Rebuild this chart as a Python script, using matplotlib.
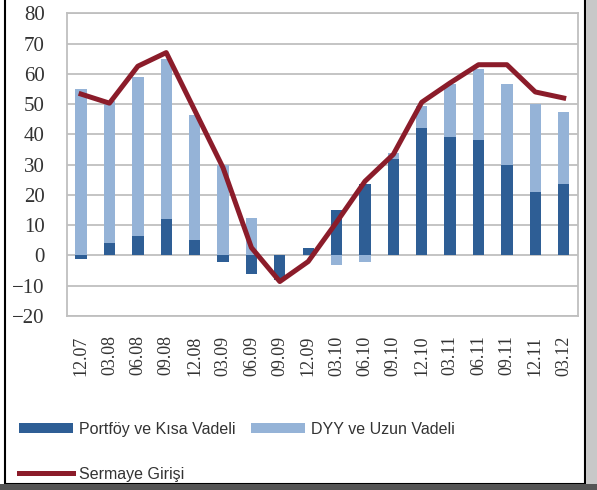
import numpy as np
import matplotlib
matplotlib.use('Agg')
import matplotlib.pyplot as plt
from matplotlib.patches import Rectangle

periods = ['12.07', '03.08', '06.08', '09.08', '12.08', '03.09', '06.09', '09.09', '12.09',
           '03.10', '06.10', '09.10', '12.10', '03.11', '06.11', '09.11', '12.11', '03.12']
portfoy = [-1, 4, 6.3, 12, 5, -2, -6, -8, 2.5, 15, 23.5, 32, 42, 39, 38, 30, 21, 23.5]
dyy = [55, 47, 52.5, 53, 41.5, 30, 12.5, 0, 0, -3, -2, 2, 7.5, 17.5, 23.5, 26.5, 29, 24]
sermaye = [53.3, 50.3, 62.5, 67, 48, 29, 2.6, -8.6, -2, 11, 24.5, 33.4, 50.6, 57, 63, 63, 54, 52]

dark_blue = '#2E5E95'
light_blue = '#95B3D7'
line_red = '#8B1C2A'

fig = plt.figure(figsize=(5.97, 4.9), dpi=100)
ax = fig.add_axes([0.112, 0.355, 0.856, 0.618])

x = np.arange(len(periods))
p = np.array(portfoy)
d = np.array(dyy)

# stack positives above zero, negatives below zero
pos_base = np.where(p > 0, p, 0)
neg_base = np.where(p < 0, p, 0)
d_bottom = np.where(d >= 0, pos_base, neg_base)

w = 0.4
ax.bar(x, p, w, color=dark_blue, zorder=2, label='Portföy ve Kısa Vadeli')
ax.bar(x, d, w, bottom=d_bottom, color=light_blue, zorder=2, label='DYY ve Uzun Vadeli')
ax.plot(x, sermaye, color=line_red, lw=3.6, zorder=3, solid_joinstyle='round',
        label='Sermaye Girişi')

ax.set_xlim(-0.5, len(periods) - 0.5)
ax.set_ylim(-20, 80)
ax.set_yticks(range(-20, 81, 10))
ax.set_xticks(x)
ax.set_xticklabels(periods, rotation=90)
ax.grid(axis='y', color='#BFBFBF', lw=1.3, zorder=0)
for s in ax.spines.values():
    s.set_color('#BFBFBF')
    s.set_linewidth(1.3)
ax.tick_params(length=0, labelcolor='#333333')
ax.tick_params(axis='x', pad=14, labelsize=13)
ax.tick_params(axis='y', pad=16, labelsize=15)
for lab in ax.get_xticklabels() + ax.get_yticklabels():
    lab.set_family(['Liberation Serif', 'DejaVu Serif'])

handles, labels = ax.get_legend_handles_labels()
# column layout: dark bar + line in first column, light bar in second
hs = [handles[1], handles[0], handles[2]]
ls = [labels[1], labels[0], labels[2]]
leg = fig.legend(hs, ls, ncol=2, loc='upper left', bbox_to_anchor=(0.018, 0.156),
                 frameon=False, handlelength=3.4, handleheight=0.65, handletextpad=0.35,
                 columnspacing=1.0, labelspacing=1.9, borderpad=0,
                 prop={'family': ['Liberation Sans', 'DejaVu Sans'], 'size': 11.5})
for t in leg.get_texts():
    t.set_color('#333333')

# frame around the picture
fig.patches.append(Rectangle((0.008, 0.012), 0.972, 1.1, transform=fig.transFigure,
                             fill=False, edgecolor='black', lw=1.5))
fig.patches.append(Rectangle((0.982, 0.0), 0.018, 1.0, transform=fig.transFigure,
                             color='#C8C8C8', lw=0))
fig.patches.append(Rectangle((0.0, 0.0), 1.0, 0.012, transform=fig.transFigure,
                             color='#555555', lw=0))

fig.savefig('out.png', dpi=100)
